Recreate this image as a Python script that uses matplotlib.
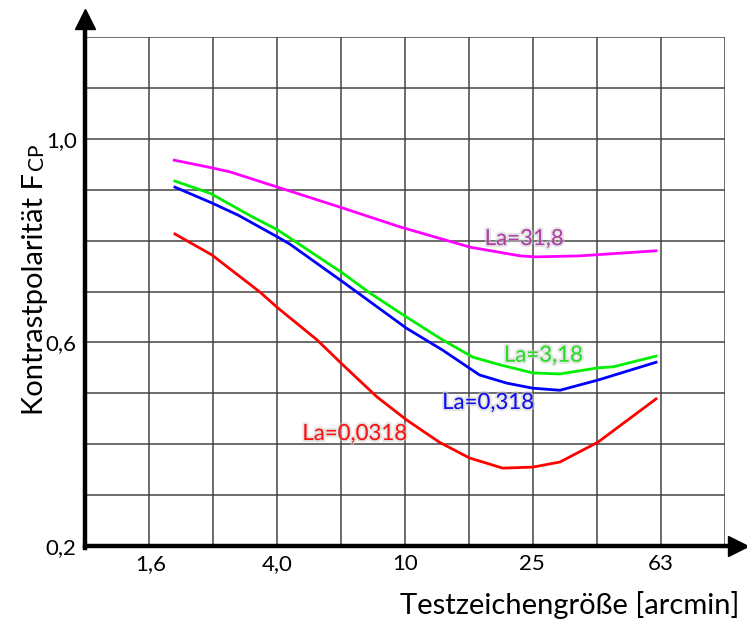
import numpy as np
import matplotlib
matplotlib.use("Agg")
import matplotlib.pyplot as plt
import matplotlib.patheffects as pe

plt.rcParams['font.family'] = ['Lato', 'DejaVu Sans']

# Leuchtdichte-Kurven (Testzeichengröße in arcmin, Kontrastpolarität)
x_318 = [1.90, 2.49, 2.84, 4.0, 6.39, 9.64, 16.0, 22.9, 25.5, 35.2, 60.9]
y_318 = [0.958, 0.943, 0.935, 0.905, 0.864, 0.827, 0.787, 0.770, 0.768, 0.770, 0.780]

x_3_18 = [1.91, 2.46, 3.35, 4.0, 4.47, 6.39, 7.77, 10.1, 13.1, 16.3, 19.8, 25.1, 30.5, 40.1, 44.7, 60.9]
y_3_18 = [0.917, 0.893, 0.846, 0.821, 0.801, 0.736, 0.697, 0.650, 0.605, 0.571, 0.556, 0.540, 0.538, 0.550, 0.552, 0.573]

x_0_318 = [1.91, 2.49, 3.01, 4.0, 4.37, 6.39, 10.1, 13.1, 17.1, 20.8, 25.1, 30.5, 40.1, 60.9]
y_0_318 = [0.905, 0.874, 0.850, 0.807, 0.793, 0.719, 0.628, 0.585, 0.536, 0.520, 0.510, 0.506, 0.526, 0.561]

x_0_0318 = [1.91, 2.49, 3.52, 4.0, 5.31, 6.39, 8.17, 10.1, 12.8, 15.9, 20.2, 25.1, 30.5, 40.1, 60.9]
y_0_0318 = [0.813, 0.772, 0.699, 0.668, 0.605, 0.556, 0.493, 0.448, 0.404, 0.373, 0.353, 0.355, 0.365, 0.404, 0.489]

xticks = [1.6, 4.0, 10, 25, 63]
xtick_labels = ['1,6', '4,0', '10', '25', '63']
yticks = [0.2, 0.6, 1.0]
ytick_labels = ['0,2', '0,6', '1,0']

fig = plt.figure(figsize=(7.47, 6.24), dpi=100)
ax = fig.add_axes([0.1138, 0.125, 0.8567, 0.8157])
ax.set_xscale('log')
ax.set_xlim(1.0, 100)
ax.set_ylim(0.2, 1.2)

# Gitter
for e in np.arange(0.2, 2.01, 0.2):
    ax.axvline(10 ** e, color='#444444', lw=1.1, zorder=1)
for v in np.arange(0.3, 1.21, 0.1):
    ax.axhline(v, color='#444444', lw=1.1, zorder=1)

ax.plot(x_318, y_318, color='#ff00ff', lw=2, zorder=3)
ax.plot(x_3_18, y_3_18, color='#00ee00', lw=2, zorder=3)
ax.plot(x_0_318, y_0_318, color='#0000ff', lw=2, zorder=3)
ax.plot(x_0_0318, y_0_0318, color='#ff0000', lw=2, zorder=3)

glow = [pe.withStroke(linewidth=3, foreground='#cccccc', alpha=0.5)]
ax.text(23.6, 0.803, 'La=31,8', color='#b040a8', fontsize=16, ha='center', va='center', path_effects=glow)
ax.text(27.1, 0.574, 'La=3,18', color='#22dd22', fontsize=16, ha='center', va='center', path_effects=glow)
ax.text(18.2, 0.481, 'La=0,318', color='#1010ee', fontsize=16, ha='center', va='center', path_effects=glow)
ax.text(6.97, 0.420, 'La=0,0318', color='#ff1010', fontsize=16, ha='center', va='center', path_effects=glow)

for s in ax.spines.values():
    s.set_visible(False)
ax.set_xticks(xticks)
ax.set_xticklabels(xtick_labels)
ax.set_xticks([], minor=True)
ax.set_yticks(yticks)
ax.set_yticklabels(ytick_labels)
ax.tick_params(length=0, labelsize=16, pad=6)

# Achsen mit Pfeilen
ax.plot([0, 0], [-0.004, 1.03], transform=ax.transAxes, color='k', lw=3.2, clip_on=False, zorder=5)
ax.plot([0], [1.036], transform=ax.transAxes, marker='^', ms=15, color='k', clip_on=False, zorder=5)
ax.plot([0, 1.01], [0, 0], transform=ax.transAxes, color='k', lw=3.2, clip_on=False, zorder=5)
ax.plot([1.021], [0], transform=ax.transAxes, marker='>', ms=15, color='k', clip_on=False, zorder=5)

fig.text(0.99, 0.03, 'Testzeichengröße [arcmin]', fontsize=21, ha='right', va='center')

# y-Beschriftung: "F" mit kleinem "CP" auf gleicher Grundlinie
t1 = fig.text(0.058, 0.335, 'Kontrastpolarität F', fontsize=21, rotation=90,
              rotation_mode='anchor', ha='left', va='baseline')
fig.canvas.draw()
bb = t1.get_window_extent(fig.canvas.get_renderer())
fig.text(0.058, bb.y1 / fig.bbox.height + 0.004, 'CP', fontsize=15, rotation=90,
         rotation_mode='anchor', ha='left', va='baseline')

fig.savefig('out.png', dpi=100)
